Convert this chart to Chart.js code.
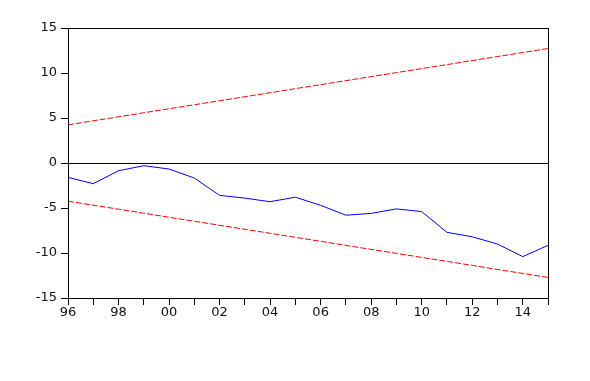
<!DOCTYPE html>
<html>
<head>
<meta charset="utf-8">
<script src="https://cdn.jsdelivr.net/npm/chart.js@4"></script>
<style>
html,body{margin:0;padding:0;background:#fff;}
#wrap{width:590px;height:381px;}
</style>
</head>
<body>
<div id="wrap"><canvas id="c" width="590" height="381"></canvas></div>
<script>
const years = [1996,1997,1998,1999,2000,2001,2002,2003,2004,2005,2006,2007,2008,2009,2010,2011,2012,2013,2014,2015];
const cusum = [-1.6,-2.3,-0.86,-0.3,-0.67,-1.67,-3.6,-3.9,-4.3,-3.8,-4.7,-5.8,-5.6,-5.1,-5.4,-7.7,-8.2,-9.0,-10.4,-9.15];
const upperBound = [4.24,4.69,5.13,5.58,6.03,6.47,6.92,7.36,7.81,8.26,8.70,9.15,9.60,10.04,10.49,10.93,11.38,11.83,12.27,12.72];
const lowerBound = [-4.24,-4.69,-5.13,-5.58,-6.03,-6.47,-6.92,-7.36,-7.81,-8.26,-8.70,-9.15,-9.60,-10.04,-10.49,-10.93,-11.38,-11.83,-12.27,-12.72];
const yTicks = [-15,-10,-5,0,5,10,15];

const pts = arr => years.map((y,i)=>({x:y,y:arr[i]}));

const frame = {
  id:'frame',
  afterDatasetsDraw(chart){
    const a = chart.chartArea, ctx = chart.ctx;
    ctx.save();
    ctx.strokeStyle='#000';
    ctx.lineWidth=1;
    ctx.strokeRect(Math.round(a.left)+0.5, Math.round(a.top)+0.5, Math.round(a.right-a.left), Math.round(a.bottom-a.top));
    ctx.restore();
  }
};

const tickFont = {family:'"DejaVu Sans", sans-serif', size:13};

new Chart(document.getElementById('c'), {
  type:'line',
  data:{
    datasets:[
      {data:pts(cusum), borderColor:'#0000ff', borderWidth:1, pointRadius:0, tension:0, fill:false},
      {data:pts(upperBound), borderColor:'#ff0000', borderWidth:1, borderDash:[6,2], pointRadius:0, tension:0, fill:false},
      {data:pts(lowerBound), borderColor:'#ff0000', borderWidth:1, borderDash:[6,2], pointRadius:0, tension:0, fill:false}
    ]
  },
  options:{
    responsive:false,
    animation:false,
    layout:{padding:{top:28,right:42,left:0,bottom:0}},
    plugins:{legend:{display:false}, tooltip:{enabled:false}},
    scales:{
      x:{
        type:'linear', min:1996, max:2015,
        afterBuildTicks(s){ s.ticks = years.map(v=>({value:v})); },
        afterFit(s){ s.height = 83; },
        grid:{drawOnChartArea:false, tickLength:7, tickColor:'#000', color:'#000'},
        border:{color:'#000'},
        ticks:{
          autoSkip:false, maxRotation:0, padding:0,
          color:'#111', font:tickFont,
          callback(v){ return v%2===0 ? String(v).slice(2) : ''; }
        }
      },
      y:{
        min:-15, max:15,
        afterBuildTicks(s){ s.ticks = yTicks.map(v=>({value:v})); },
        afterFit(s){ s.width = 68; },
        grid:{color:ctx=> (ctx.tick && ctx.tick.value===0) ? '#000' : 'rgba(0,0,0,0)', tickColor:'#000', tickLength:7},
        border:{color:'#000'},
        ticks:{
          padding:4,
          color:'#111', font:tickFont,
          callback(v){ return String(v); }
        }
      }
    }
  },
  plugins:[frame]
});
</script>
</body>
</html>
